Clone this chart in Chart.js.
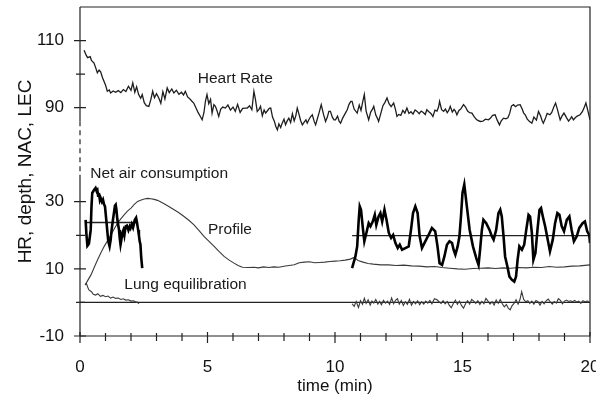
<!DOCTYPE html>
<html>
<head>
<meta charset="utf-8">
<script src="https://cdn.jsdelivr.net/npm/chart.js@4.4.1/dist/chart.umd.min.js"></script>
<style>
  html, body { margin: 0; padding: 0; background: #fff; }
</style>
</head>
<body>
<canvas id="chart" width="596" height="399"></canvas>
<script>
// broken y axis: values above the break are drawn OFF units lower
const OFF = 32;
const toAxis = (v) => (v >= 50 ? v - OFF : v);

// [time (min), value]
const heartRate = [
  [0.16,107.1],[0.25,105.5],[0.3,104.9],[0.4,105.2],[0.45,104.1],[0.55,103.3],[0.62,101.8],[0.68,100.4],
  [0.75,101.2],[0.81,100.7],[0.88,99.0],[0.94,97.9],[1.0,96.8],[1.07,94.9],[1.15,95.3],[1.2,94.4],
  [1.3,95.0],[1.4,94.6],[1.5,95.1],[1.6,94.5],[1.7,95.4],[1.8,94.8],[1.9,96.4],[2.0,95.2],
  [2.07,97.4],[2.15,94.6],[2.22,96.2],[2.3,93.9],[2.38,92.8],[2.44,93.9],[2.52,91.5],[2.6,90.6],
  [2.7,90.4],[2.78,92.5],[2.85,94.9],[2.92,93.0],[3.0,94.2],[3.09,92.9],[3.17,91.3],[3.25,94.8],
  [3.33,92.6],[3.42,95.9],[3.5,94.5],[3.6,95.6],[3.68,94.4],[3.78,95.2],[3.88,94.0],[3.98,94.6],
  [4.06,93.8],[4.13,94.9],[4.22,93.2],[4.3,92.7],[4.38,92.0],[4.46,91.4],[4.55,89.9],[4.63,88.6],
  [4.72,87.4],[4.79,86.4],[4.86,88.5],[4.92,92.0],[4.98,93.9],[5.05,91.2],[5.12,92.5],[5.18,88.4],
  [5.25,90.9],[5.31,90.4],[5.37,89.2],[5.44,87.4],[5.52,89.6],[5.6,90.2],[5.7,89.9],[5.8,90.8],
  [5.9,89.3],[6.0,90.2],[6.09,88.9],[6.18,91.0],[6.28,88.6],[6.38,89.8],[6.49,89.9],[6.56,89.9],
  [6.65,90.6],[6.74,89.4],[6.82,94.9],[6.88,92.5],[6.95,88.9],[7.02,89.5],[7.08,90.4],[7.15,87.6],
  [7.22,89.3],[7.28,88.4],[7.35,89.1],[7.42,89.8],[7.48,89.9],[7.55,87.2],[7.62,86.0],[7.68,84.4],
  [7.74,83.4],[7.8,85.2],[7.87,84.1],[7.93,85.4],[8.0,86.6],[8.06,84.9],[8.12,86.0],[8.19,86.9],
  [8.26,85.6],[8.33,88.2],[8.4,86.1],[8.46,87.5],[8.52,89.9],[8.59,88.0],[8.65,86.2],[8.72,84.9],
  [8.8,85.8],[8.86,86.4],[8.91,85.4],[8.98,86.5],[9.04,87.3],[9.11,87.9],[9.18,86.0],[9.24,84.9],
  [9.3,86.5],[9.38,88.6],[9.46,90.9],[9.55,88.0],[9.63,85.9],[9.7,87.2],[9.76,88.9],[9.82,88.9],
  [9.9,87.1],[9.96,86.4],[10.02,86.4],[10.1,87.5],[10.16,86.0],[10.22,85.4],[10.3,86.9],[10.38,88.0],
  [10.48,89.4],[10.55,91.0],[10.62,91.9],[10.67,91.9],[10.75,89.6],[10.87,88.4],[10.95,90.8],[11.02,89.2],
  [11.08,91.5],[11.15,93.9],[11.22,89.0],[11.32,86.4],[11.4,88.7],[11.46,89.4],[11.52,90.4],[11.6,87.8],
  [11.66,86.9],[11.71,85.9],[11.8,88.4],[11.88,90.6],[11.96,91.6],[12.04,92.9],[12.12,91.2],[12.2,90.3],
  [12.3,91.4],[12.37,89.5],[12.43,87.4],[12.5,88.0],[12.58,87.7],[12.66,89.2],[12.74,88.4],[12.82,89.9],
  [12.9,88.3],[12.98,88.8],[13.06,88.1],[13.14,89.3],[13.22,88.9],[13.3,88.2],[13.38,89.0],[13.46,88.6],
  [13.54,88.0],[13.6,89.4],[13.67,88.9],[13.76,88.3],[13.84,87.4],[13.92,89.3],[14.0,89.0],[14.06,90.2],
  [14.1,91.9],[14.18,89.4],[14.26,88.9],[14.33,89.6],[14.4,88.5],[14.46,89.2],[14.52,90.4],[14.6,88.7],
  [14.67,89.5],[14.72,89.0],[14.78,87.9],[14.86,89.2],[14.93,89.6],[15.04,90.9],[15.12,90.2],[15.2,89.0],
  [15.28,88.5],[15.37,88.4],[15.45,87.4],[15.53,86.6],[15.6,86.2],[15.7,85.9],[15.8,86.0],[15.9,86.6],
  [16.02,86.4],[16.1,86.9],[16.18,87.7],[16.28,87.9],[16.36,86.3],[16.45,84.9],[16.52,86.1],[16.61,86.9],
  [16.7,86.7],[16.78,87.0],[16.85,88.3],[16.92,90.5],[17.0,90.9],[17.08,90.3],[17.16,90.8],[17.26,90.9],
  [17.34,89.6],[17.4,88.4],[17.46,87.9],[17.54,86.6],[17.62,86.0],[17.72,85.4],[17.8,87.2],[17.9,86.3],
  [17.98,88.9],[18.06,87.6],[18.12,86.2],[18.17,85.4],[18.24,86.6],[18.32,88.3],[18.43,87.9],[18.5,88.6],
  [18.58,90.2],[18.65,91.4],[18.72,89.6],[18.78,87.8],[18.83,86.4],[18.9,87.5],[18.98,88.4],[19.09,86.9],
  [19.16,86.0],[19.22,86.6],[19.28,87.3],[19.35,86.4],[19.42,87.0],[19.5,87.5],[19.61,87.9],[19.7,88.8],
  [19.78,90.2],[19.84,91.4],[19.92,89.0],[20.0,86.4]
];

const profile = [
  [0.2,5.2],[0.3,6.5],[0.43,8.2],[0.56,10.5],[0.69,12.7],[0.82,14.8],[0.95,16.7],[1.08,18.4],
  [1.21,20.1],[1.34,21.9],[1.47,23.6],[1.6,24.9],[1.73,26.1],[1.86,27.2],[2.0,28.1],[2.13,29.2],
  [2.26,30.1],[2.4,30.5],[2.52,30.8],[2.65,31.0],[2.78,30.9],[2.91,30.7],[3.04,30.4],[3.17,29.9],
  [3.3,29.4],[3.5,28.5],[3.69,27.6],[3.88,26.7],[4.08,25.6],[4.28,24.4],[4.47,23.1],[4.67,21.4],
  [4.87,19.6],[5.06,18.2],[5.26,16.7],[5.45,15.2],[5.65,13.7],[5.85,12.6],[6.04,11.7],[6.2,11.0],
  [6.37,10.5],[6.6,10.4],[6.82,10.5],[7.0,10.3],[7.2,10.6],[7.4,10.4],[7.6,10.6],[7.8,10.5],
  [8.0,10.8],[8.2,11.0],[8.4,11.2],[8.6,11.8],[8.8,12.0],[9.0,12.1],[9.2,11.8],[9.4,11.9],
  [9.6,12.0],[9.8,12.2],[10.0,12.3],[10.2,12.4],[10.4,12.6],[10.6,12.9],[10.75,13.4],[10.9,12.5],
  [11.1,12.0],[11.3,11.6],[11.5,11.4],[11.8,11.2],[12.1,11.2],[12.4,11.0],[12.7,11.1],[13.0,10.9],
  [13.3,10.8],[13.6,10.6],[13.9,10.7],[14.2,10.4],[14.5,10.2],[14.8,10.0],[15.1,9.9],[15.4,10.1],
  [15.7,10.2],[16.0,10.3],[16.3,10.1],[16.6,10.3],[16.9,10.2],[17.2,10.4],[17.5,10.3],[17.8,10.5],
  [18.1,10.4],[18.4,10.7],[18.7,10.5],[19.0,10.6],[19.3,10.8],[19.6,10.9],[20.0,11.2]
];

const nacFirst = [
  [0.22,24.6],[0.25,20.5],[0.29,16.9],[0.35,17.5],[0.42,21.6],[0.45,28.5],[0.48,32.6],[0.55,33.5],
  [0.61,34.1],[0.65,33.2],[0.68,33.5],[0.71,31.8],[0.74,32.6],[0.78,30.5],[0.81,31.1],[0.86,30.0],
  [0.9,30.6],[0.94,29.2],[0.98,28.6],[1.03,24.6],[1.08,20.5],[1.11,18.2],[1.16,16.7],[1.2,18.5],
  [1.24,21.6],[1.29,24.5],[1.33,26.6],[1.37,28.8],[1.4,29.1],[1.43,27.5],[1.46,25.0],[1.5,23.0],
  [1.53,21.6],[1.56,19.0],[1.59,17.2],[1.62,18.5],[1.66,20.7],[1.7,21.5],[1.74,20.0],[1.79,22.7],
  [1.84,22.9],[1.9,21.5],[1.95,22.6],[1.98,22.1],[2.03,23.3],[2.08,22.3],[2.15,24.6],[2.2,25.2],
  [2.24,23.5],[2.28,21.6],[2.31,20.0],[2.34,18.2],[2.37,17.3],[2.4,13.5],[2.44,10.2]
];

const nacSecond = [
  [10.67,10.2],[10.8,13.7],[10.87,16.7],[10.93,24.6],[10.97,28.6],[11.02,27.6],[11.1,21.6],[11.15,18.2],
  [11.23,20.7],[11.32,23.6],[11.39,22.7],[11.48,24.1],[11.56,26.1],[11.62,23.1],[11.71,25.6],[11.78,26.6],
  [11.85,24.1],[11.94,27.6],[12.02,24.6],[12.11,20.7],[12.2,19.2],[12.28,20.1],[12.37,17.7],[12.46,16.2],
  [12.54,17.2],[12.63,15.7],[12.76,16.2],[12.89,16.7],[12.98,21.6],[13.06,26.6],[13.15,28.6],[13.24,26.6],
  [13.32,19.7],[13.41,16.2],[13.54,18.2],[13.67,20.1],[13.8,22.2],[13.93,21.2],[14.02,16.7],[14.1,11.7],
  [14.2,11.2],[14.29,13.7],[14.39,17.2],[14.49,18.2],[14.59,17.7],[14.65,15.7],[14.72,14.2],[14.81,16.7],
  [14.88,19.7],[14.94,25.6],[15.0,32.6],[15.07,35.1],[15.17,28.6],[15.28,21.6],[15.41,16.7],[15.54,13.2],
  [15.63,11.2],[15.69,15.7],[15.76,21.6],[15.82,24.6],[15.93,23.6],[16.06,21.6],[16.15,19.7],[16.22,18.7],
  [16.32,21.6],[16.41,26.6],[16.48,27.6],[16.54,25.6],[16.61,19.7],[16.67,13.7],[16.76,10.7],[16.84,7.7],
  [16.94,6.7],[17.03,6.2],[17.1,7.7],[17.16,12.7],[17.23,16.7],[17.33,15.7],[17.42,17.2],[17.5,21.6],
  [17.59,26.1],[17.65,25.6],[17.72,20.7],[17.78,12.7],[17.86,14.7],[17.94,21.6],[18.02,27.6],[18.08,28.1],
  [18.15,25.6],[18.24,22.7],[18.33,19.2],[18.43,15.2],[18.54,18.7],[18.63,23.6],[18.72,26.6],[18.8,26.1],
  [18.89,22.7],[18.98,21.2],[19.09,24.6],[19.19,25.6],[19.28,21.6],[19.37,18.2],[19.48,19.7],[19.58,22.2],
  [19.71,23.6],[19.8,24.1],[19.89,21.2],[19.97,20.1],[20.0,17.7]
];

// [start, end, mean NAC]
const nacMean = [[0.22, 2.28, 23.8], [10.67, 20, 19.9]];

const lungFirst = [
  [0.2,5.2],[0.25,5.7],[0.3,4.6],[0.35,3.7],[0.45,3.2],[0.52,2.4],[0.61,2.2],[0.7,2.6],
  [0.8,1.8],[0.9,2.1],[1.0,1.7],[1.1,1.9],[1.2,1.3],[1.3,1.6],[1.4,1.2],[1.5,1.3],
  [1.6,0.9],[1.7,1.1],[1.79,0.7],[1.9,0.8],[2.0,0.4],[2.1,0.5],[2.18,0.2],[2.25,0.1],[2.31,-0.4]
];

const lungSecond = [
  [10.67,-0.4],[10.75,-1.2],[10.83,0.3],[10.92,-1.5],[11.0,0.5],[11.08,-0.6],[11.15,1.2],[11.22,-0.3],
  [11.3,0.8],[11.38,-0.8],[11.45,0.4],[11.52,-0.2],[11.6,0.9],[11.68,-0.5],[11.75,0.3],[11.82,-0.7],
  [11.9,0.6],[11.98,-0.2],[12.06,0.4],[12.14,-0.6],[12.22,1.3],[12.3,-0.4],[12.38,0.7],[12.45,1.1],
  [12.52,-0.5],[12.6,0.6],[12.68,-0.9],[12.76,0.2],[12.84,-0.6],[12.92,0.9],[13.0,-0.8],[13.08,0.3],
  [13.16,-0.4],[13.24,0.5],[13.32,-0.7],[13.4,0.2],[13.48,-0.5],[13.56,0.4],[13.64,-0.2],[13.72,0.6],
  [13.8,-0.4],[13.9,1.1],[14.0,0.8],[14.08,0.2],[14.16,-0.3],[14.24,0.5],[14.32,-0.4],[14.4,0.3],
  [14.48,-0.8],[14.56,-1.6],[14.64,-0.3],[14.72,0.7],[14.8,-0.6],[14.88,0.4],[14.96,-0.9],[15.04,-1.7],
  [15.12,-0.4],[15.2,0.5],[15.28,-0.5],[15.36,0.9],[15.44,0.4],[15.52,-0.3],[15.6,0.5],[15.68,-0.6],
  [15.76,0.3],[15.84,-0.4],[15.92,1.2],[16.0,0.4],[16.08,-0.5],[16.16,0.2],[16.24,-0.8],[16.32,0.7],
  [16.4,-0.3],[16.48,0.9],[16.56,-0.4],[16.64,-1.3],[16.72,-0.6],[16.8,-1.8],[16.87,-2.2],[16.94,-1.0],
  [17.02,-0.3],[17.1,0.8],[17.18,-0.5],[17.26,1.0],[17.32,3.2],[17.4,0.9],[17.48,0.2],[17.56,0.5],
  [17.64,-0.3],[17.72,0.4],[17.8,-0.5],[17.88,0.6],[17.96,0.2],[18.04,-0.8],[18.12,0.3],[18.2,-0.4],
  [18.28,0.5],[18.36,1.0],[18.44,0.2],[18.52,-0.5],[18.6,0.3],[18.68,-0.2],[18.76,1.1],[18.84,0.6],
  [18.92,-0.4],[19.0,0.4],[19.08,0.7],[19.16,0.3],[19.24,0.5],[19.32,0.2],[19.4,0.6],[19.48,0.1],
  [19.56,0.4],[19.64,-0.3],[19.72,0.5],[19.8,0.2],[19.88,0.4],[19.96,0.3]
];

const lungBaseline = [[0, 0], [20, 0]];

const yTickValues = [-10, 10, 30, 90, 110];
const yTickLabels = ["-10", "10", "30", "90", "110"];
const yMinorValues = [0, 20, 100];
const xTickValues = [0, 5, 10, 15, 20];

const yTickAxis = yTickValues.map(toAxis);
const pts = (arr) => arr.map(([t, v]) => ({ x: t, y: toAxis(v) }));

const line = (data, width, color) => ({
  data: data,
  borderColor: color,
  borderWidth: width,
  pointRadius: 0,
  tension: 0,
  fill: false,
});

const datasets = [
  line(pts(nacFirst), 2.6, "#000"),
  line(pts(nacSecond), 2.6, "#000"),
  ...nacMean.map(([a, b, m]) => line(pts([[a, m], [b, m]]), 1.4, "#222")),
  line(pts(heartRate), 1.3, "#1e1e1e"),
  line(pts(profile), 1.1, "#3a3a3a"),
  line(pts(lungFirst), 1.1, "#3a3a3a"),
  line(pts(lungSecond), 1.1, "#3a3a3a"),
  line(pts(lungBaseline), 1.2, "#222"),
];

const frame = {
  id: "frame",
  afterDatasetsDraw(chart) {
    const { ctx, chartArea: a, scales } = chart;
    const x = scales.x, y = scales.y;
    ctx.save();
    ctx.strokeStyle = "#222";
    ctx.lineWidth = 1.2;
    ctx.beginPath();
    ctx.moveTo(a.left, a.top);
    ctx.lineTo(a.right, a.top);
    ctx.lineTo(a.right, a.bottom);
    ctx.lineTo(a.left, a.bottom);
    ctx.stroke();

    // left axis, dashed over the break
    const yHi = y.getPixelForValue(54);
    const yLo = y.getPixelForValue(38);
    ctx.beginPath();
    ctx.moveTo(a.left, a.top);
    ctx.lineTo(a.left, yHi);
    ctx.moveTo(a.left, yLo);
    ctx.lineTo(a.left, a.bottom);
    ctx.stroke();
    ctx.setLineDash([5, 4]);
    ctx.beginPath();
    ctx.moveTo(a.left, yHi);
    ctx.lineTo(a.left, yLo);
    ctx.stroke();
    ctx.setLineDash([]);

    // tick marks crossing the axes
    ctx.beginPath();
    yTickAxis.forEach((v) => {
      const p = y.getPixelForValue(v);
      ctx.moveTo(a.left - 6, p);
      ctx.lineTo(a.left + 6, p);
    });
    yMinorValues.map(toAxis).forEach((v) => {
      const p = y.getPixelForValue(v);
      ctx.moveTo(a.left - 4, p);
      ctx.lineTo(a.left + 5, p);
    });
    for (let t = 0; t <= 20; t++) {
      const p = x.getPixelForValue(t);
      const major = t % 5 === 0;
      ctx.moveTo(p, a.bottom - (major ? 4 : 3));
      ctx.lineTo(p, a.bottom + (major ? 7 : 5));
    }
    ctx.stroke();

    // curve labels
    ctx.fillStyle = "#1a1a1a";
    ctx.font = "15.5px 'Liberation Sans', Arial, sans-serif";
    ctx.textAlign = "left";
    ctx.textBaseline = "alphabetic";
    const notes = [
      ["Heart Rate", 4.62, 97.5],
      ["Net air consumption", 0.4, 37.1],
      ["Profile", 5.02, 20.4],
      ["Lung equilibration", 1.74, 3.9],
    ];
    notes.forEach(([text, t, v]) => {
      ctx.fillText(text, x.getPixelForValue(t), y.getPixelForValue(toAxis(v)));
    });
    ctx.restore();
  },
};

Chart.defaults.font.family = "'Liberation Sans', Arial, sans-serif";
Chart.defaults.color = "#111";

new Chart(document.getElementById("chart"), {
  type: "line",
  data: { datasets: datasets },
  options: {
    responsive: false,
    animation: false,
    events: [],
    layout: { padding: { top: 7, right: 6, left: 0, bottom: 0 } },
    plugins: { legend: { display: false }, tooltip: { enabled: false } },
    scales: {
      x: {
        type: "linear",
        min: 0,
        max: 20,
        grid: { display: false, drawTicks: false },
        border: { display: false },
        afterBuildTicks: (scale) => {
          scale.ticks = xTickValues.map((v) => ({ value: v }));
        },
        ticks: {
          font: { size: 17 },
          padding: 21,
          maxRotation: 0,
          autoSkip: false,
          callback: (v) => String(v),
        },
        title: {
          display: true,
          text: "time (min)",
          font: { size: 17 },
          padding: { top: 0, bottom: 2 },
        },
        afterFit: (scale) => {
          scale.height = 63;
          scale.paddingLeft = 0;
          scale.paddingRight = 0;
        },
      },
      y: {
        type: "linear",
        min: -10,
        max: 120 - OFF,
        grid: { display: false, drawTicks: false },
        border: { display: false },
        afterBuildTicks: (scale) => {
          scale.ticks = yTickAxis.map((v) => ({ value: v }));
        },
        ticks: {
          font: { size: 17 },
          padding: 16,
          autoSkip: false,
          callback: (v) => {
            const i = yTickAxis.indexOf(v);
            return i >= 0 ? yTickLabels[i] : "";
          },
        },
        title: {
          display: true,
          text: "HR, depth, NAC, LEC",
          font: { size: 19 },
          padding: { top: 14, bottom: 0 },
        },
        afterFit: (scale) => {
          scale.width = 80;
          scale.paddingTop = 0;
          scale.paddingBottom = 0;
        },
      },
    },
  },
  plugins: [frame],
});
</script>
</body>
</html>
